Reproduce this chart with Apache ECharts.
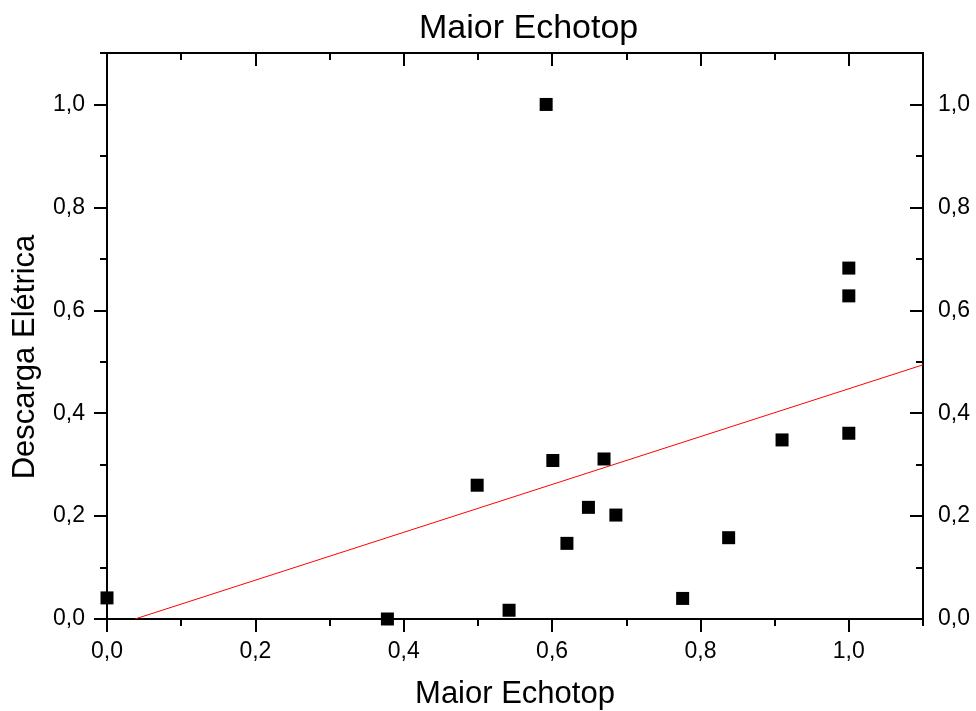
<!DOCTYPE html>
<html>
<head>
<meta charset="utf-8">
<script src="https://cdn.jsdelivr.net/npm/echarts@6/dist/echarts.min.js"></script>
<style>
html,body{margin:0;padding:0;background:#fff;}
#chart{width:976px;height:711px;}
</style>
</head>
<body>
<div id="chart"></div>
<script>
// Data
var xValues = [0.0, 0.378, 0.499, 0.542, 0.592, 0.601, 0.620, 0.649, 0.670, 0.686, 0.776, 0.838, 0.910, 1.0, 1.0, 1.0];
var yValues = [0.041, 0.0, 0.260, 0.017, 1.0, 0.308, 0.147, 0.217, 0.311, 0.202, 0.040, 0.158, 0.348, 0.682, 0.628, 0.361];
var fitX = [0.0377, 1.1];
var fitY = [0.0, 0.494];
var majorTicks = [0, 0.2, 0.4, 0.6, 0.8, 1.0];
var axisMin = 0, axisMax = 1.1, minorStep = 0.1;
var titleText = 'Maior Echotop';
var xName = 'Maior Echotop';
var yName = 'Descarga Elétrica';

var FONT = '"Liberation Sans", Arial, sans-serif';
function fmt(v){ return v.toFixed(1).replace('.', ','); }

var scatterData = xValues.map(function(x,i){ return [x, yValues[i]]; });
var fitData = fitX.map(function(x,i){ return [x, fitY[i]]; });

function ls(){ return {color:'#000', width:2}; }

function majorAxis(pos, inside, showLabel, margin, extra){
  var a = {
    type:'value', position:pos, min:axisMin, max:axisMax,
    axisLine:{show:true, onZero:false, lineStyle:ls()},
    axisTick:{show:true, inside:inside, length:13, lineStyle:ls(), customValues: majorTicks},
    axisLabel:{show:showLabel, customValues: majorTicks, formatter:fmt, fontFamily:FONT, fontSize:23, color:'#000', margin:margin},
    splitLine:{show:false}
  };
  if (extra) for (var k in extra) a[k] = extra[k];
  return a;
}
function minorAxis(pos, inside){
  return {
    type:'value', position:pos, min:axisMin, max:axisMax, interval:minorStep,
    axisLine:{show:false, onZero:false},
    axisTick:{show:true, inside:inside, length:7, lineStyle:ls()},
    axisLabel:{show:false},
    splitLine:{show:false}
  };
}

var option = {
  backgroundColor:'#fff',
  animation:false,
  title:{
    text:titleText, left:419, top:12, padding:0,
    textStyle:{fontFamily:FONT, fontSize:34, fontWeight:'normal', color:'#000'}
  },
  grid:{left:107, right:53, top:53, bottom:92, containLabel:false, outerBoundsMode:'none'},
  xAxis:[
    majorAxis('bottom', false, true, 21, {name:xName, nameLocation:'middle', nameGap:60,
      nameTextStyle:{fontFamily:FONT, fontSize:31, color:'#000'}}),
    minorAxis('bottom', false),
    majorAxis('top', true, false, 8),
    minorAxis('top', true)
  ],
  yAxis:[
    majorAxis('left', false, true, 22, {name:yName, nameLocation:'middle', nameGap:66, nameRotate:90,
      nameTextStyle:{fontFamily:FONT, fontSize:31, color:'#000', padding:[0, 42, 0, 0]}}),
    minorAxis('left', false),
    majorAxis('right', true, true, 15),
    minorAxis('right', true)
  ],
  series:[
    {
      type:'line', xAxisIndex:0, yAxisIndex:0, data:fitData,
      showSymbol:false, symbol:'none', lineStyle:{color:'#ff0000', width:1}, z:2, silent:true
    },
    {
      type:'scatter', xAxisIndex:0, yAxisIndex:0, data:scatterData,
      symbol:'rect', symbolSize:13, itemStyle:{color:'#000', opacity:1}, z:3
    }
  ]
};
var chart = echarts.init(document.getElementById('chart'), null, {renderer:'canvas'});
chart.setOption(option);
</script>
</body>
</html>
